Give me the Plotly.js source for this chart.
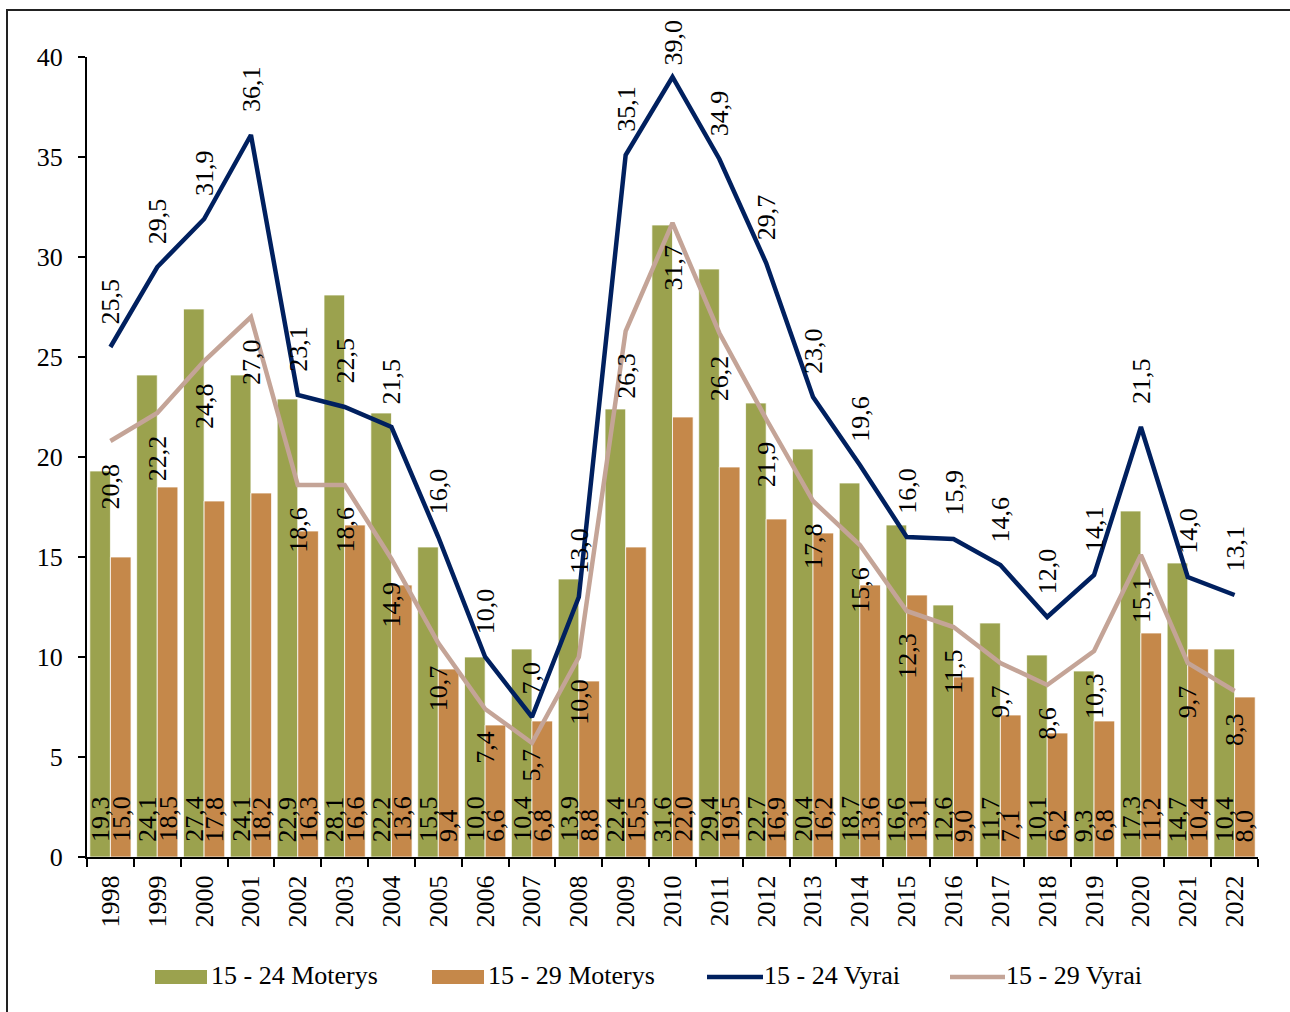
<!DOCTYPE html>
<html>
<head>
<meta charset="utf-8">
<script src="https://cdn.plot.ly/plotly-3.0.1.min.js"></script>
<style>
  body { margin: 0; background: #fff; }
  #chart { width: 1290px; height: 1012px; }
  #frame { position: absolute; left: 6px; top: 9px; width: 1300px; height: 1020px;
           border-top: 2px solid #222; border-left: 2px solid #222; pointer-events: none; }
</style>
</head>
<body>
<div id="chart"></div>
<div id="frame"></div>
<script>
const years = ['1998','1999','2000','2001','2002','2003','2004','2005','2006','2007','2008','2009','2010',
               '2011','2012','2013','2014','2015','2016','2017','2018','2019','2020','2021','2022'];
const women1524 = [19.3, 24.1, 27.4, 24.1, 22.9, 28.1, 22.2, 15.5, 10.0, 10.4, 13.9, 22.4, 31.6,
                   29.4, 22.7, 20.4, 18.7, 16.6, 12.6, 11.7, 10.1, 9.3, 17.3, 14.7, 10.4];
const women1529 = [15.0, 18.5, 17.8, 18.2, 16.3, 16.6, 13.6, 9.4, 6.6, 6.8, 8.8, 15.5, 22.0,
                   19.5, 16.9, 16.2, 13.6, 13.1, 9.0, 7.1, 6.2, 6.8, 11.2, 10.4, 8.0];
const men1524 = [25.5, 29.5, 31.9, 36.1, 23.1, 22.5, 21.5, 16.0, 10.0, 7.0, 13.0, 35.1, 39.0,
                 34.9, 29.7, 23.0, 19.6, 16.0, 15.9, 14.6, 12.0, 14.1, 21.5, 14.0, 13.1];
const men1529 = [20.8, 22.2, 24.8, 27.0, 18.6, 18.6, 14.9, 10.7, 7.4, 5.7, 10.0, 26.3, 31.7,
                 26.2, 21.9, 17.8, 15.6, 12.3, 11.5, 9.7, 8.6, 10.3, 15.1, 9.7, 8.3];
const seriesNames = ['15 - 24 Moterys', '15 - 29 Moterys', '15 - 24 Vyrai', '15 - 29 Vyrai'];
const yTicks = [0, 5, 10, 15, 20, 25, 30, 35, 40];

const FONT = 'Liberation Serif, Times New Roman, serif';
const C_GREEN = '#9BA24E', C_ORANGE = '#C5884A', C_NAVY = '#00205F', C_TAN = '#C4A497';
const fmt = v => v.toFixed(1).replace('.', ',');
const labelFont = { family: FONT, size: 26, color: '#000' };

const W = 1290, H = 1012, ML = 87, MR = 32, MT = 57, MB = 155;
const Y_MAX = 40;
const plotH = H - MT - MB;
const px2x = p => (p - ML) / (W - ML - MR);
const px2y = p => (H - MB - p) / plotH;
const BARGAP = 0.12;
const catPx = (W - ML - MR) / years.length;
const barHalfOffset = catPx * (1 - BARGAP) / 4;

const traces = [
  { type: 'bar', x: years, y: women1524, name: seriesNames[0], showlegend: false, hoverinfo: 'skip',
    marker: { color: C_GREEN, line: { color: 'rgba(255,255,255,0.75)', width: 1 } } },
  { type: 'bar', x: years, y: women1529, name: seriesNames[1], showlegend: false, hoverinfo: 'skip',
    marker: { color: C_ORANGE, line: { color: 'rgba(255,255,255,0.75)', width: 1 } } },
  { type: 'scatter', mode: 'lines', x: years, y: men1524, name: seriesNames[2],
    line: { color: C_NAVY, width: 4.5 }, showlegend: false, hoverinfo: 'skip' },
  { type: 'scatter', mode: 'lines', x: years, y: men1529, name: seriesNames[3],
    line: { color: C_TAN, width: 4.5 }, showlegend: false, hoverinfo: 'skip' }
];

const annotations = [];
// bar value labels at the base of each bar
women1524.forEach((v, i) => {
  annotations.push({ x: i, y: 0, xref: 'x', yref: 'y', text: fmt(v), showarrow: false,
    textangle: -90, yanchor: 'bottom', xanchor: 'center', xshift: -barHalfOffset, yshift: 13,
    font: labelFont });
});
women1529.forEach((v, i) => {
  annotations.push({ x: i, y: 0, xref: 'x', yref: 'y', text: fmt(v), showarrow: false,
    textangle: -90, yanchor: 'bottom', xanchor: 'center', xshift: barHalfOffset, yshift: 13,
    font: labelFont });
});
// line labels (above the navy line, below the tan line)
men1524.forEach((v, i) => {
  annotations.push({ x: i, y: v, xref: 'x', yref: 'y', text: fmt(v), showarrow: false,
    textangle: -90, yanchor: 'bottom', xanchor: 'center', yshift: v > 37 ? 9 : 21,
    font: labelFont });
});
men1529.forEach((v, i) => {
  // keep a below-label clear of the bar-base labels
  const ptPx = (Y_MAX - v) / Y_MAX * plotH;
  const lblLen = fmt(v).length * 11 + 6;
  const collides = ptPx + 20 + lblLen > plotH - 64;
  annotations.push({ x: i, y: v, xref: 'x', yref: 'y', text: fmt(v), showarrow: false,
    textangle: -90, yanchor: 'top', xanchor: 'center', yshift: collides ? -3 : -20,
    font: labelFont });
});

// custom legend
const shapes = [];
const legendItems = [
  { kind: 'rect', color: C_GREEN, x0: 155, x1: 207, tx: 209 },
  { kind: 'rect', color: C_ORANGE, x0: 432, x1: 484, tx: 486 },
  { kind: 'line', color: C_NAVY, x0: 707, x1: 763, tx: 762 },
  { kind: 'line', color: C_TAN, x0: 950, x1: 1005, tx: 1004 }
];
legendItems.forEach((it, k) => {
  if (it.kind === 'rect') {
    shapes.push({ type: 'rect', xref: 'paper', yref: 'paper', x0: px2x(it.x0), x1: px2x(it.x1),
      y0: px2y(984), y1: px2y(970), fillcolor: it.color, line: { width: 0 } });
  } else {
    shapes.push({ type: 'line', xref: 'paper', yref: 'paper', x0: px2x(it.x0), x1: px2x(it.x1),
      y0: px2y(977), y1: px2y(977), line: { color: it.color, width: 4.5 } });
  }
  annotations.push({ xref: 'paper', yref: 'paper', x: px2x(it.tx), y: px2y(975), xanchor: 'left',
    yanchor: 'middle', text: seriesNames[k], showarrow: false, font: labelFont });
});

const layout = {
  width: W, height: H,
  margin: { l: ML, r: MR, t: MT, b: MB },
  paper_bgcolor: '#fff', plot_bgcolor: '#fff',
  barmode: 'group', bargap: BARGAP, bargroupgap: 0,
  showlegend: false,
  font: { family: FONT, size: 26, color: '#000' },
  xaxis: { type: 'category', range: [-0.5, years.length - 0.5], tickangle: -90, ticks: 'outside',
    tickson: 'boundaries', ticklen: 8, ticklabelstandoff: 6,
    tickwidth: 2, tickcolor: '#000', showline: true, linecolor: '#000', linewidth: 2,
    showgrid: false, tickfont: { family: FONT, size: 26, color: '#000' }, fixedrange: true },
  yaxis: { range: [0, Y_MAX], tickvals: yTicks, ticktext: yTicks.map(String), ticks: 'outside',
    ticklen: 7, ticklabelstandoff: 10, tickwidth: 2, tickcolor: '#000', showline: true,
    linecolor: '#000', linewidth: 2,
    showgrid: false, zeroline: false, tickfont: { family: FONT, size: 26, color: '#000' },
    fixedrange: true },
  annotations: annotations,
  shapes: shapes
};

Plotly.newPlot('chart', traces, layout, { displayModeBar: false, staticPlot: true });
</script>
</body>
</html>
